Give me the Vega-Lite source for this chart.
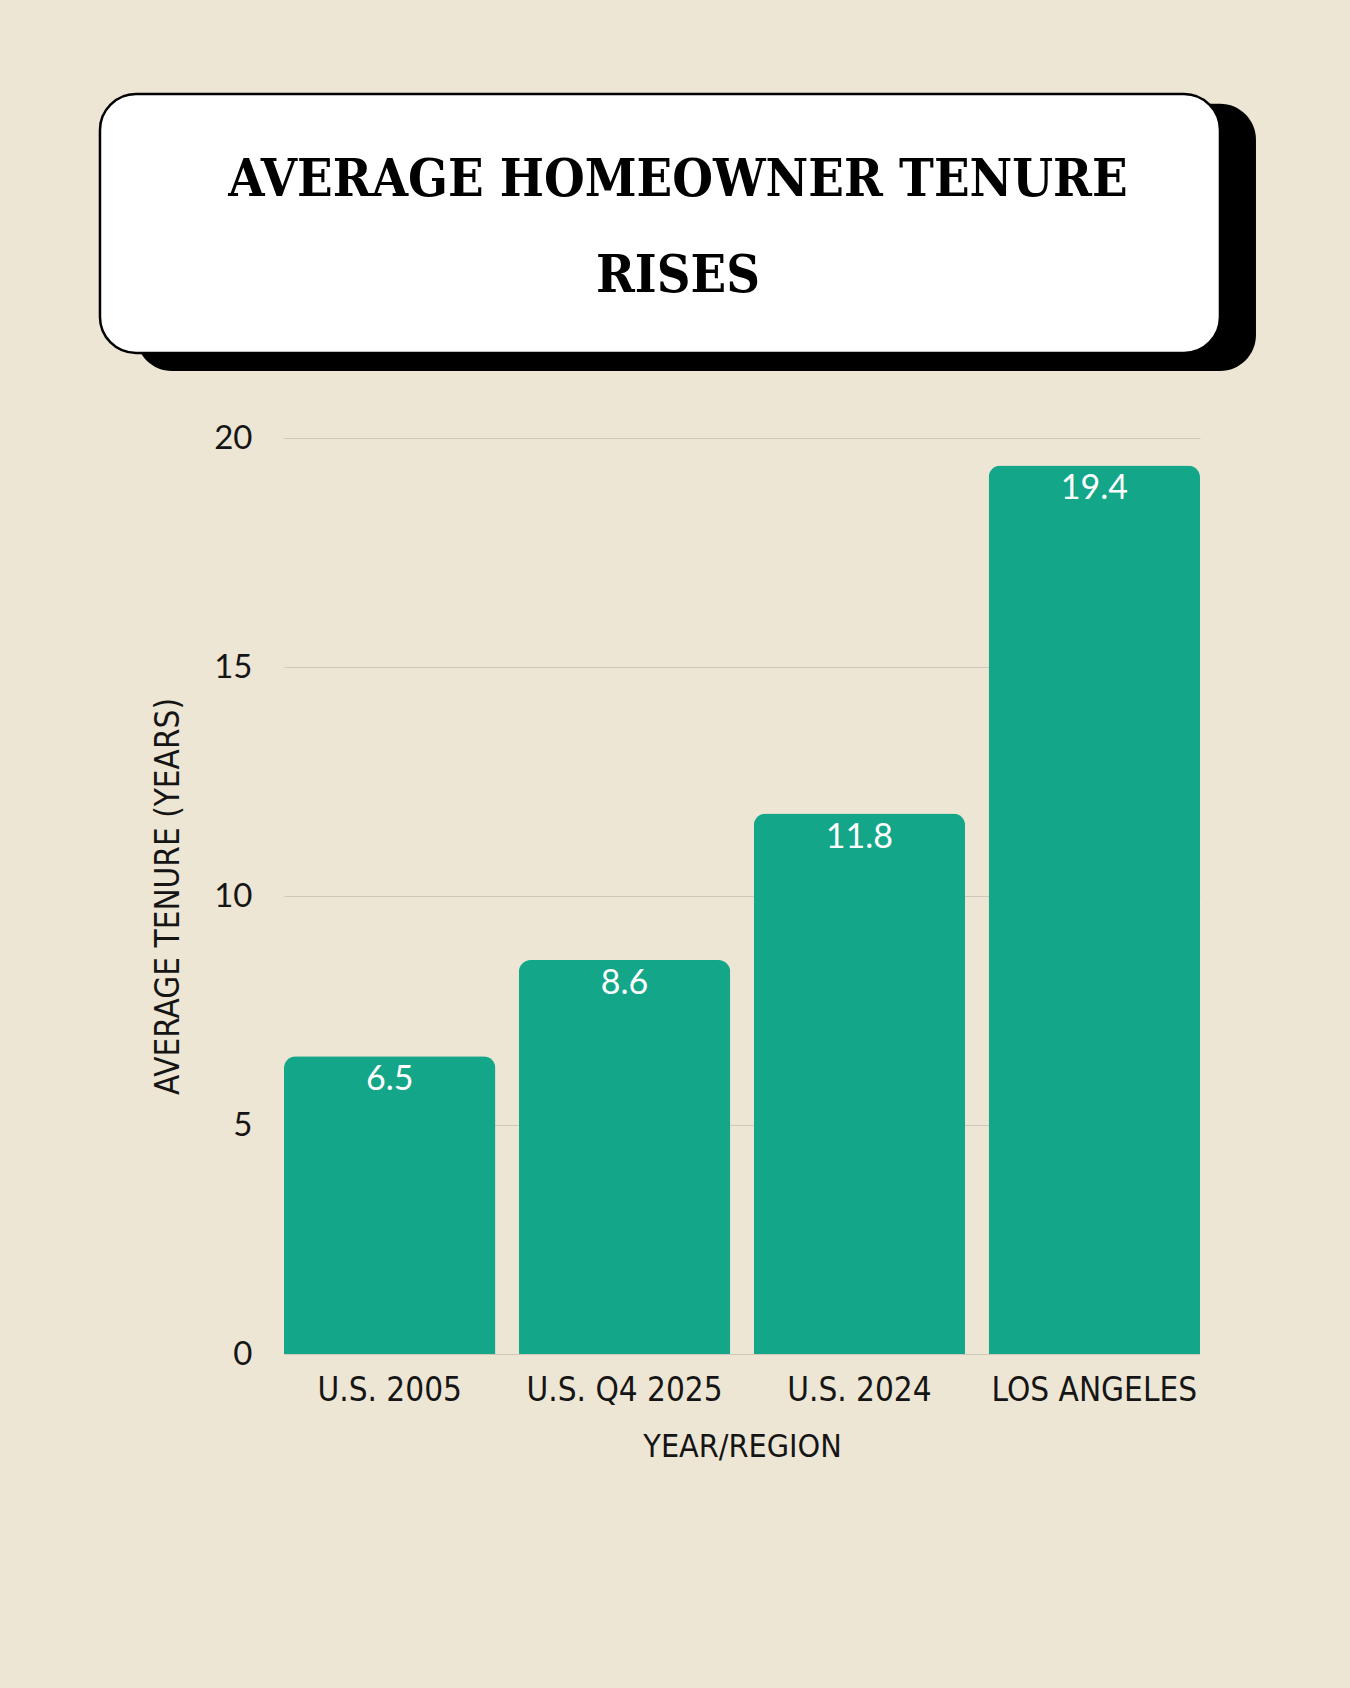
{
  "$schema": "https://vega.github.io/schema/vega-lite/v6.json",
  "autosize": "none",
  "width": 916,
  "height": 916,
  "padding": {"left": 284, "top": 438, "right": 150, "bottom": 334},
  "background": "#EEE6D4",
  "config": {"view": {"stroke": null}},
  "data": {"values": [
    {"region": "U.S. 2005", "label": "U.S. 2005", "tenure": 6.5},
    {"region": "U.S. Q4 2025", "label": "U.S. Q4 2025", "tenure": 8.6},
    {"region": "U.S. 2024", "label": "U.S. 2024", "tenure": 11.8},
    {"region": "Los Angeles", "label": "LOS ANGELES", "tenure": 19.4}
  ]},
  "resolve": {"scale": {"x": "independent", "y": "independent"}, "axis": {"x": "independent", "y": "independent"}},
  "layer": [
    {
      "data": {"values": [{"box": "title"}]},
      "layer": [
        {
          "mark": {"type": "rect", "fill": "#000000", "cornerRadius": 36},
          "encoding": {
            "x": {"datum": -16.16, "type": "quantitative", "scale": {"domain": [0, 100], "nice": false, "zero": false}, "axis": null},
            "x2": {"datum": 106.11},
            "y": {"datum": 136.5, "type": "quantitative", "scale": {"domain": [0, 100], "nice": false, "zero": false}, "axis": null},
            "y2": {"datum": 107.31}
          }
        },
        {
          "mark": {"type": "rect", "fill": "#FFFFFF", "stroke": "#000000", "strokeWidth": 2.5, "cornerRadius": 36},
          "encoding": {
            "x": {"datum": -20.09, "type": "quantitative"},
            "x2": {"datum": 102.18},
            "y": {"datum": 137.55, "type": "quantitative"},
            "y2": {"datum": 109.28}
          }
        },
        {
          "mark": {"type": "text", "text": "AVERAGE HOMEOWNER TENURE", "font": "DejaVu Serif Condensed", "fontWeight": "bold", "fontSize": 52, "align": "center", "baseline": "middle", "color": "#000000"},
          "encoding": {
            "x": {"datum": 43.01, "type": "quantitative"},
            "y": {"datum": 128.17, "type": "quantitative"}
          }
        },
        {
          "mark": {"type": "text", "text": "RISES", "font": "DejaVu Serif Condensed", "fontWeight": "bold", "fontSize": 52, "align": "center", "baseline": "middle", "color": "#000000"},
          "encoding": {
            "x": {"datum": 43.01, "type": "quantitative"},
            "y": {"datum": 117.69, "type": "quantitative"}
          }
        }
      ]
    },
    {
      "encoding": {
        "x": {
          "field": "label", "type": "nominal", "sort": null,
          "scale": {"paddingInner": 0.1, "paddingOuter": 0},
          "axis": {
            "orient": "bottom",
            "title": "YEAR/REGION", "labelAngle": 0, "domain": false, "ticks": false, "labelLimit": 0,
            "labelFont": "DejaVu Sans Condensed", "labelFontSize": 33, "labelColor": "#151515", "labelPadding": 20,
            "titleFont": "DejaVu Sans Condensed", "titleFontSize": 32, "titleFontWeight": "normal", "titleColor": "#151515", "titlePadding": 24
          }
        },
        "y": {
          "field": "tenure", "type": "quantitative",
          "scale": {"domain": [0, 20], "nice": false},
          "axis": {
            "orient": "left",
            "title": "AVERAGE TENURE (YEARS)", "values": [0, 5, 10, 15, 20], "grid": true, "gridColor": "#CFC7B8", "gridWidth": 1.2,
            "domain": false, "ticks": false,
            "labelFont": "Lato", "labelFontSize": 33, "labelColor": "#151515", "labelPadding": 32,
            "titleFont": "DejaVu Sans Condensed", "titleFontSize": 33, "titleFontWeight": "normal", "titleColor": "#151515", "titlePadding": 28
          }
        }
      },
      "layer": [
        {
          "mark": {"type": "bar", "color": "#13A689", "cornerRadiusTopLeft": 12, "cornerRadiusTopRight": 12}
        },
        {
          "mark": {"type": "text", "font": "Lato", "fontSize": 34, "color": "#FFFFFF", "baseline": "middle", "align": "center", "dy": 24},
          "encoding": {"text": {"field": "tenure", "type": "quantitative", "format": ".1f"}}
        }
      ]
    }
  ]
}
